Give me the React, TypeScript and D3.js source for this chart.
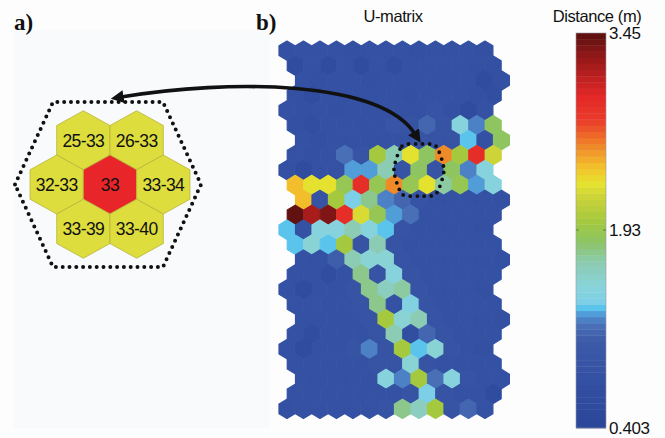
import React, { useEffect, useRef } from "react";
import * as d3 from "d3";

// U-matrix of a 13 x 7 hexagonal SOM: 25 rows x 13 columns of distances (m)
const U_ROWS: number[][] = [
  [0.78, 0.8, 0.82, 0.8, 0.78, 0.8, 0.82, 0.8, 0.78, 0.8, 0.82, 0.8, 0.76],
  [0.62, 0.8, 0.64, 0.8, 0.64, 0.8, 0.66, 0.82, 0.82, 0.8, 0.8, 0.78, 0.75],
  [0.8, 0.78, 0.82, 0.8, 0.78, 0.8, 0.8, 0.82, 0.8, 0.8, 0.8, 0.62, 0.75],
  [0.78, 0.68, 0.8, 0.82, 0.8, 0.8, 0.8, 0.78, 0.8, 0.82, 0.8, 0.78, 0.72],
  [0.8, 0.75, 0.8, 0.78, 0.8, 0.82, 0.8, 0.8, 0.8, 0.85, 0.78, 0.62, 0.8],
  [0.78, 0.72, 0.8, 0.8, 0.8, 0.82, 0.9, 0.85, 1.15, 0.85, 1.47, 1.22, 1.84],
  [0.8, 0.78, 0.8, 0.8, 0.82, 0.8, 0.82, 0.9, 0.85, 0.85, 1.32, 0.78, 1.84],
  [0.8, 0.78, 0.8, 1.2, 0.85, 1.99, 1.68, 2.26, 1.84, 2.57, 1.99, 2.9, 2.2],
  [0.78, 0.6, 0.8, 0.8, 1.26, 1.27, 1.68, 0.85, 1.84, 0.85, 1.84, 1.22, 1.47],
  [2.41, 2.26, 2.26, 1.9, 2.9, 1.88, 2.57, 1.92, 2.26, 1.72, 1.88, 1.27, 1.47],
  [2.41, 0.85, 1.99, 1.36, 1.76, 1.22, 1.15, 0.85, 0.8, 0.8, 0.8, 0.8, 0.78],
  [3.42, 3.18, 3.32, 2.9, 2.22, 1.9, 1.27, 1.18, 0.8, 0.8, 0.8, 0.8, 0.8],
  [1.32, 0.8, 1.47, 1.47, 1.66, 1.47, 1.32, 0.85, 0.8, 0.8, 0.8, 0.8, 0.78],
  [1.32, 1.5, 1.32, 1.99, 0.85, 1.66, 0.85, 0.8, 0.8, 0.8, 0.8, 0.82, 0.8],
  [0.8, 0.8, 1.1, 1.66, 1.5, 1.52, 0.85, 0.8, 0.8, 0.8, 0.8, 0.8, 0.78],
  [0.8, 0.8, 0.65, 0.8, 1.76, 0.85, 1.47, 0.85, 0.8, 0.8, 0.8, 0.8, 0.8],
  [0.8, 0.62, 0.8, 0.8, 0.85, 1.76, 1.6, 1.72, 0.85, 0.8, 0.8, 0.8, 0.78],
  [0.8, 0.8, 0.8, 0.8, 0.85, 1.76, 0.8, 1.45, 0.85, 0.8, 0.8, 0.8, 0.8],
  [0.8, 0.8, 0.8, 0.8, 0.85, 1.99, 1.52, 1.66, 0.85, 0.8, 0.8, 0.8, 0.78],
  [0.8, 0.66, 0.8, 0.8, 0.8, 0.85, 1.66, 0.7, 1.15, 0.85, 0.8, 0.8, 0.8],
  [0.8, 0.62, 0.8, 0.8, 0.85, 1.22, 0.85, 1.99, 1.32, 1.5, 0.85, 0.8, 0.78],
  [0.8, 0.8, 0.8, 0.8, 0.8, 0.85, 0.85, 1.5, 0.85, 0.8, 0.8, 0.8, 0.8],
  [0.8, 0.8, 0.8, 0.8, 0.8, 1.47, 1.24, 1.99, 1.18, 1.47, 0.85, 0.8, 0.8],
  [0.8, 0.8, 0.8, 0.8, 0.8, 0.8, 0.8, 0.85, 1.36, 0.85, 0.8, 0.8, 0.6],
  [0.75, 0.8, 0.8, 0.8, 0.8, 0.8, 0.85, 1.76, 1.6, 1.99, 0.85, 1.15, 0.8],
];

// horizontal offset (in cells) of each row, repeating every 4 rows
const ROW_SHIFTS = [0, 0.5, 1, 0.5];

// colour bar range and tick labels
const DIST_MIN = 0.403;
const DIST_MAX = 3.45;
const BAR_TICKS = [3.45, 1.93, 0.403];
const BAR_TICK_LABELS = ["3.45", "1.93", "0.403"];
const N_LEVELS = 64;

// colour map stops (fraction of range -> colour)
const CMAP_STOPS = [0, 0.12, 0.22, 0.26, 0.285, 0.3, 0.32, 0.36, 0.42, 0.47, 0.52, 0.58, 0.62, 0.66, 0.7, 0.74, 0.78, 0.84, 0.9, 0.95, 1];
const CMAP_COLORS = [
  "#2a4698", "#3350a2", "#3c5aa8", "#4a70b8", "#5090d0", "#50c0ee", "#7ccfe6", "#8ad4da",
  "#8ccbb0", "#8cc466", "#a2c83e", "#c8d23a", "#e6e22e", "#f2c22c", "#f0962a", "#ee6a28",
  "#ea3a2a", "#e42828", "#b41e1e", "#8a1616", "#5a1010",
];

// neighbourhood of unit 33 (row offset, column offset, label)
const NEIGHBOUR_LABELS = ["25-33", "26-33", "32-33", "33", "33-34", "33-39", "33-40"];
const NEIGHBOUR_ROWS = [-1, -1, 0, 0, 0, 1, 1];
const NEIGHBOUR_COLS = [-0.5, 0.5, -1, 0, 1, -0.5, 0.5];

const W = 665;
const H = 438;

function hexPath(w: number, h: number) {
  const pts: [number, number][] = [
    [0, -h / 2], [w / 2, -h / 4], [w / 2, h / 4], [0, h / 2], [-w / 2, h / 4], [-w / 2, -h / 4],
  ];
  return "M" + pts.map((p) => p.join(",")).join("L") + "Z";
}

export default function App() {
  const ref = useRef<SVGSVGElement>(null);

  useEffect(() => {
    const svg = d3.select(ref.current);
    svg.selectAll("*").remove();

    const sans = "'Liberation Sans', Arial, Helvetica, sans-serif";
    const serif = "'Liberation Serif', 'Times New Roman', serif";

    svg.append("rect").attr("width", W).attr("height", H).attr("fill", "#fdfdfe");
    svg.append("rect").attr("x", 14).attr("y", 30).attr("width", 256).attr("height", 398).attr("fill", "#f9fafc");

    // colour scale, quantised into discrete levels
    const frac = d3.scaleLinear().domain([DIST_MIN, DIST_MAX]).range([0, 1]).clamp(true);
    const cmap = d3.scaleLinear<string>().domain(CMAP_STOPS).range(CMAP_COLORS).interpolate(d3.interpolateRgb);
    const colorOf = (v: number) => {
      const lvl = Math.min(N_LEVELS - 1, Math.floor(frac(v) * N_LEVELS));
      return cmap((lvl + 0.5) / N_LEVELS);
    };

    // ---- U-matrix hex grid ----
    const nRows = U_ROWS.length;
    const cellW = 16.5;
    const cellH = 19.9;
    const left = 278.7;
    const top = 40.7;
    const x = d3.scaleLinear().domain([0, 1]).range([left, left + cellW]);
    const y = d3.scaleLinear().domain([0, nRows - 1]).range([top + cellH / 2, top + cellH / 2 + (nRows - 1) * cellH * 0.75]);
    const hp = hexPath(cellW - 0.6, cellH - 0.6);

    const cells: { r: number; c: number; v: number }[] = [];
    U_ROWS.forEach((row, r) => row.forEach((v, c) => cells.push({ r, c, v })));

    svg.append("g")
      .selectAll("path")
      .data(cells)
      .join("path")
      .attr("d", hp)
      .attr("transform", (d) => `translate(${x(d.c + ROW_SHIFTS[d.r % 4] + 0.5)},${y(d.r)})`)
      .attr("fill", (d) => colorOf(d.v))
      .attr("stroke", (d) => colorOf(d.v))
      .attr("stroke-width", 1.2)
      .attr("stroke-linejoin", "round");

    // ---- colour bar ----
    const barX = 576;
    const barW = 30;
    const by = d3.scaleLinear().domain([DIST_MIN, DIST_MAX]).range([428, 33]);
    const levels = d3.range(N_LEVELS);
    const step = (DIST_MAX - DIST_MIN) / N_LEVELS;
    svg.append("g")
      .selectAll("rect")
      .data(levels)
      .join("rect")
      .attr("x", barX)
      .attr("width", barW)
      .attr("y", (i) => by(DIST_MIN + (i + 1) * step))
      .attr("height", (i) => by(DIST_MIN + i * step) - by(DIST_MIN + (i + 1) * step) + 0.4)
      .attr("fill", (i) => cmap((i + 0.5) / N_LEVELS));
    svg.append("rect")
      .attr("x", barX).attr("y", by(DIST_MAX)).attr("width", barW).attr("height", by(DIST_MIN) - by(DIST_MAX))
      .attr("fill", "none").attr("stroke", "#9a9aa4").attr("stroke-width", 0.6);

    const mid = BAR_TICKS[1];
    [barX, barX + barW - 3].forEach((tx) => {
      svg.append("line").attr("x1", tx).attr("x2", tx + 3).attr("y1", by(mid)).attr("y2", by(mid))
        .attr("stroke", "#4e8f2e").attr("stroke-width", 1);
    });
    svg.append("g")
      .selectAll("text")
      .data(BAR_TICKS)
      .join("text")
      .attr("x", barX + barW + 3)
      .attr("y", (d) => by(d))
      .attr("dy", "0.36em")
      .attr("font-family", sans)
      .attr("font-size", 17)
      .attr("letter-spacing", -0.4)
      .attr("fill", "#111")
      .text((d, i) => BAR_TICK_LABELS[i]);

    // ---- titles ----
    svg.append("text").attr("x", 393).attr("y", 21.5).attr("text-anchor", "middle")
      .attr("font-family", sans).attr("font-size", 16.5).attr("letter-spacing", -0.4).attr("fill", "#111").text("U-matrix");
    svg.append("text").attr("x", 597).attr("y", 21.5).attr("text-anchor", "middle")
      .attr("font-family", sans).attr("font-size", 16.5).attr("letter-spacing", -0.4).attr("fill", "#111").text("Distance (m)");
    svg.append("text").attr("x", 14).attr("y", 30).attr("font-family", serif).attr("font-weight", "bold")
      .attr("font-size", 23).attr("fill", "#111").text("a)");
    svg.append("text").attr("x", 256).attr("y", 30).attr("font-family", serif).attr("font-weight", "bold")
      .attr("font-size", 23).attr("fill", "#111").text("b)");

    // ---- panel a: neighbourhood of unit 33 ----
    const aw = 53.3;
    const ah = 59;
    const ax = d3.scaleLinear().domain([0, 1]).range([110, 110 + aw]);
    const ay = d3.scaleLinear().domain([0, 1]).range([184.5, 184.5 + ah * 0.75]);
    const ahp = hexPath(aw, ah);
    const ag = svg.append("g");
    const nb = NEIGHBOUR_LABELS.map((label, i) => ({ label, r: NEIGHBOUR_ROWS[i], c: NEIGHBOUR_COLS[i] }));
    ag.selectAll("path")
      .data(nb)
      .join("path")
      .attr("d", ahp)
      .attr("transform", (d) => `translate(${ax(d.c)},${ay(d.r)})`)
      .attr("fill", (d) => (d.label === "33" ? "#e8262a" : "#dedd3e"))
      .attr("stroke", "#b7b43a")
      .attr("stroke-width", 0.8);
    ag.selectAll("text")
      .data(nb)
      .join("text")
      .attr("x", (d) => ax(d.c))
      .attr("y", (d) => ay(d.r))
      .attr("dy", "0.36em")
      .attr("text-anchor", "middle")
      .attr("font-family", sans)
      .attr("font-size", 17.5)
      .attr("letter-spacing", -0.6)
      .attr("fill", "#111")
      .text((d) => d.label);

    // dotted outline round the neighbourhood
    const outline: [number, number][] = [
      [15, 184.5], [53, 102], [163, 102], [201, 184.5], [163, 267], [53, 267],
    ];
    svg.append("path")
      .attr("d", "M" + outline.map((p) => p.join(",")).join("L") + "Z")
      .attr("fill", "none")
      .attr("stroke", "#111")
      .attr("stroke-width", 4)
      .attr("stroke-linecap", "round")
      .attr("stroke-dasharray", "0 6.8");

    // dotted outline round unit 33 on the U-matrix
    const ux = x(8 + ROW_SHIFTS[8 % 4] + 0.5);
    const uy = y(8);
    const ring: [number, number][] = [
      [ux - 25, uy], [ux - 17, uy - 24], [ux, uy - 26], [ux + 17, uy - 24],
      [ux + 25, uy], [ux + 17, uy + 24], [ux, uy + 26], [ux - 17, uy + 24],
    ];
    svg.append("path")
      .attr("d", d3.line().curve(d3.curveCardinalClosed.tension(0.3))(ring) as string)
      .attr("fill", "none")
      .attr("stroke", "#111")
      .attr("stroke-width", 3.8)
      .attr("stroke-linecap", "round")
      .attr("stroke-dasharray", "0 7");

    // double-headed arrow linking the two panels
    const defs = svg.append("defs");
    defs.append("marker")
      .attr("id", "head")
      .attr("viewBox", "0 0 10 10")
      .attr("refX", 2)
      .attr("refY", 5)
      .attr("markerWidth", 3.6)
      .attr("markerHeight", 3.6)
      .attr("orient", "auto-start-reverse")
      .append("path")
      .attr("d", "M0,0L10,5L0,10Z")
      .attr("fill", "#111");
    const path = d3.path();
    path.moveTo(121, 97);
    path.bezierCurveTo(230, 79, 380, 80, 415, 134);
    svg.append("path")
      .attr("d", path.toString())
      .attr("fill", "none")
      .attr("stroke", "#111")
      .attr("stroke-width", 3.6)
      .attr("marker-start", "url(#head)")
      .attr("marker-end", "url(#head)");
  }, []);

  return (
    <svg
      ref={ref}
      width={W}
      height={H}
      style={{ position: "absolute", left: 0, top: 0, display: "block" }}
    />
  );
}
